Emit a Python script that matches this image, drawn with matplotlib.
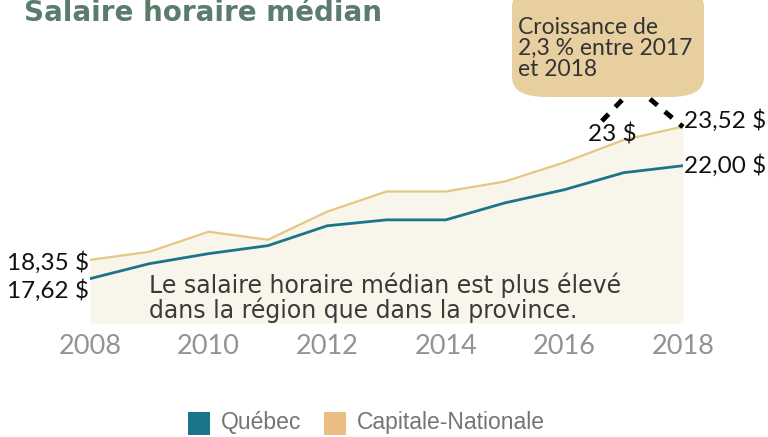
import matplotlib.pyplot as plt
from matplotlib.patches import FancyBboxPatch, Rectangle

years = [2008, 2009, 2010, 2011, 2012, 2013, 2014, 2015, 2016, 2017, 2018]
capitale = [18.35, 18.66, 19.44, 19.13, 20.22, 21.00, 21.00, 21.39, 22.13, 23.00, 23.52]
quebec = [17.62, 18.20, 18.59, 18.90, 19.67, 19.90, 19.90, 20.56, 21.07, 21.73, 22.00]
tick_years = [2008, 2010, 2012, 2014, 2016, 2018]

TEAL = '#1b7487'
TAN = '#e6c684'
LEG_TAN = '#ebbd82'
W, H = 768, 437

fig = plt.figure(figsize=(W / 100, H / 100), dpi=100)
# axes in pixel coords: x 90..683, y 60..323 (from top)
ax = fig.add_axes([90 / W, (H - 323) / H, 593 / W, 263 / H])
ax.set_xlim(2008, 2018)
ax.set_ylim(15.9, 26.1)

ax.fill_between(years, capitale, 15.9, color='#f8f6ea', zorder=1, lw=0)
ax.plot(years, capitale, color=TAN, lw=1.6, zorder=3)
ax.plot(years, quebec, color=TEAL, lw=2.0, zorder=4)

for s in ax.spines.values():
    s.set_visible(False)
ax.set_yticks([])
ax.set_xticks(tick_years)
ax.set_xticklabels([str(y) for y in tick_years], family='Lato', fontsize=19.5,
                   color='#939393')
ax.tick_params(axis='x', length=0, pad=8)

lab = dict(family='Lato', fontsize=17.5, color='#111111', va='center')
ax.text(years[-1] + 0.02, capitale[-1] + 0.25, '23,52 $', ha='left', **lab)
ax.text(years[-1] + 0.02, quebec[-1], '22,00 $', ha='left', **lab)
ax.text(years[0] - 0.02, capitale[0] - 0.12, '18,35 $', ha='right', **lab)
ax.text(years[0] - 0.02, quebec[0] - 0.45, '17,62 $', ha='right', **lab)
ax.text(years[-2] - 0.2, capitale[-2] + 0.22, '23 $', ha='center', **lab)

ax.text(2009.0, 16.88, 'Le salaire horaire médian est plus élevé\ndans la région que dans la province.',
        family='DejaVu Sans', fontsize=17, color='#3a3a3a', va='center',
        ha='left', linespacing=0.95, zorder=5)

# callout box
box = FancyBboxPatch((512 / W, (H - 97) / H), 192 / W, 110 / H,
                     boxstyle='round,pad=0,rounding_size=0.045',
                     transform=fig.transFigure, fc='#e7cf9f', ec='none')
fig.patches.append(box)
fig.text(518 / W, (H - 48) / H, 'Croissance de\n2,3 % entre 2017\net 2018',
         family='Lato', fontsize=16.5, color='#333333', va='center', ha='left',
         linespacing=1.0)
fig.add_artist(plt.Line2D([622 / W, 600 / W], [(H - 100) / H, (H - 123) / H],
                          color='black', lw=3.5, ls=(0, (2, 2)), transform=fig.transFigure))
fig.add_artist(plt.Line2D([650 / W, 683 / W], [(H - 99) / H, (H - 127) / H],
                          color='black', lw=3.5, ls=(0, (2, 2)), transform=fig.transFigure))

fig.text(24 / W, (H - 13) / H, 'Salaire horaire médian', family='DejaVu Sans',
         fontweight='bold', fontsize=20, color='#5b7c6c', va='center', ha='left')

# legend
for x0, c, name in [(188, TEAL, 'Québec'), (324, LEG_TAN, 'Capitale-Nationale')]:
    fig.patches.append(Rectangle((x0 / W, (H - 435) / H), 22 / W, 23 / H,
                                 transform=fig.transFigure, fc=c, ec='none'))
    fig.text((x0 + 33) / W, (H - 423) / H, name, family='Liberation Sans',
             fontsize=16.5, color='#747474', va='center', ha='left')

fig.savefig('out.png', dpi=100)
